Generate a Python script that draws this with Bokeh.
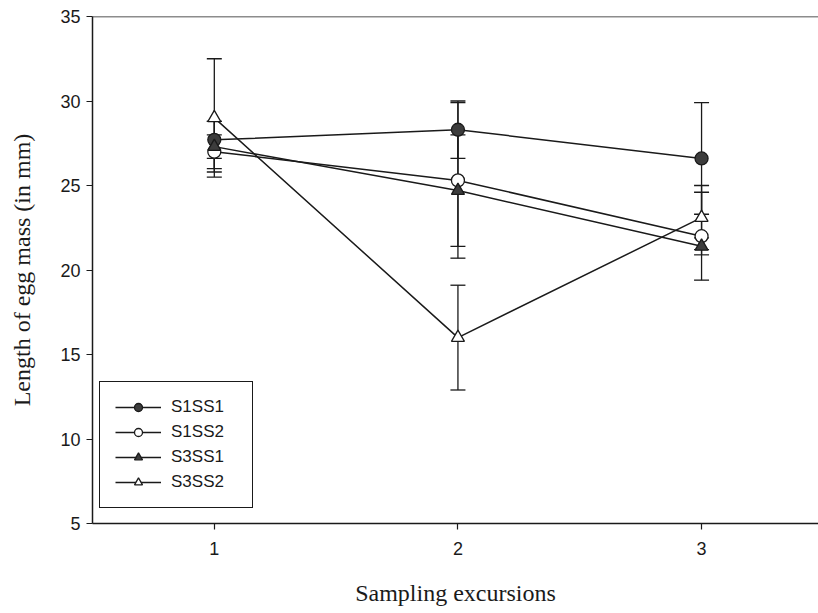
from bokeh.plotting import figure
from bokeh.models import (ColumnDataSource, Whisker, TeeHead, Span, Range1d,
                          Legend, LegendItem, FixedTicker)
from bokeh.embed import file_html
from bokeh.resources import INLINE

# Mean egg-mass length per sampling excursion, with error (± mm)
excursions = [1, 2, 3]

s1ss1_mean = [27.7, 28.3, 26.6]
s1ss1_err = [1.1, 1.7, 3.3]

s1ss2_mean = [27.0, 25.3, 22.0]
s1ss2_err = [1.0, 4.6, 2.6]

s3ss1_mean = [27.3, 24.7, 21.4]
s3ss1_err = [1.5, 3.3, 0.5]

s3ss2_mean = [29.0, 16.0, 23.1]
s3ss2_err = [3.5, 3.1, 1.9]

series_names = ["S1SS1", "S1SS2", "S3SS1", "S3SS2"]
y_ticks = [5, 10, 15, 20, 25, 30, 35]
x_ticks = [1, 2, 3]

INK = "#1a1a1a"
DARK_FILL = "#3c3c3c"

p = figure(width=818, height=613, output_backend="svg", toolbar_location=None,
           x_range=Range1d(0.5, 3.48), y_range=Range1d(5, 35),
           min_border_left=92, min_border_top=16, min_border_bottom=90,
           min_border_right=0)
p.outline_line_color = None
p.grid.visible = False
p.background_fill_color = "white"
p.border_fill_color = "white"

# top frame line
p.add_layout(Span(location=35, dimension="width", line_color=INK, line_width=1.5))

for ax in (p.xaxis[0], p.yaxis[0]):
    ax.axis_line_color = INK
    ax.axis_line_width = 1.5
    ax.major_tick_line_color = INK
    ax.major_tick_line_width = 1.2
    ax.major_tick_out = 6
    ax.major_tick_in = 0
    ax.minor_tick_line_color = None
    ax.major_label_text_font = "Liberation Sans"
    ax.major_label_text_font_size = "18px"
    ax.major_label_text_color = INK
    ax.axis_label_text_font = "Liberation Serif"
    ax.axis_label_text_font_size = "24px"
    ax.axis_label_text_font_style = "normal"
    ax.axis_label_text_color = INK

p.xaxis.ticker = FixedTicker(ticks=x_ticks)
p.yaxis.ticker = FixedTicker(ticks=y_ticks)
p.xaxis.axis_label = "Sampling excursions"
p.yaxis.axis_label = "Length of egg mass (in mm)"
p.xaxis.major_label_standoff = 12
p.yaxis.major_label_standoff = 6
p.xaxis.axis_label_standoff = 22
p.yaxis.axis_label_standoff = 22

means = [s1ss1_mean, s1ss2_mean, s3ss1_mean, s3ss2_mean]
errs = [s1ss1_err, s1ss2_err, s3ss1_err, s3ss2_err]
markers = ["circle", "circle", "triangle", "triangle"]
fills = [DARK_FILL, "white", DARK_FILL, "white"]

sources = []
for m, e in zip(means, errs):
    sources.append(ColumnDataSource(dict(
        x=excursions, y=m,
        lower=[a - b for a, b in zip(m, e)],
        upper=[a + b for a, b in zip(m, e)],
    )))

# connecting lines
line_rs = []
for src in sources:
    line_rs.append(p.line("x", "y", source=src, line_color=INK, line_width=1.5))

# error bars
for src in sources:
    p.add_layout(Whisker(source=src, base="x", lower="lower", upper="upper",
                         line_color=INK, line_width=1.3,
                         upper_head=TeeHead(size=15, line_color=INK, line_width=1.3),
                         lower_head=TeeHead(size=15, line_color=INK, line_width=1.3)))

# symbols on top
marker_rs = []
for src, mk, fc in zip(sources, markers, fills):
    marker_rs.append(p.scatter("x", "y", source=src, marker=mk, size=13,
                               fill_color=fc, line_color=INK, line_width=1.3))

items = [LegendItem(label=n, renderers=[lr, mr])
         for n, lr, mr in zip(series_names, line_rs, marker_rs)]
legend = Legend(items=items, location=(7, 15),
                glyph_width=46, glyph_height=20, spacing=5,
                padding=15, margin=0, label_standoff=10, label_width=66,
                label_text_font="Liberation Sans", label_text_font_size="17px",
                label_text_color=INK,
                border_line_color=INK, border_line_width=1.3, border_line_alpha=1.0,
                background_fill_color="white", background_fill_alpha=1.0)
p.add_layout(legend, "center")

open("out.html", "w").write(file_html(p, INLINE))
